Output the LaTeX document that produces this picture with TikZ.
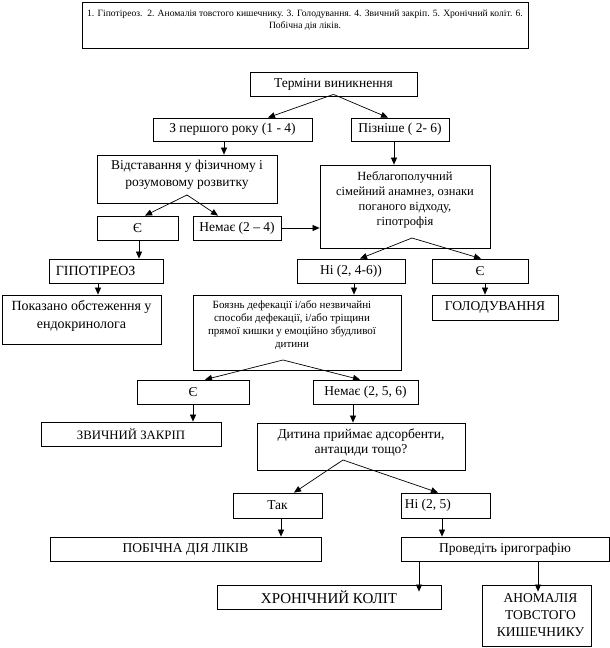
\documentclass[tikz,border=0pt]{standalone}
\usepackage{fontspec}
\setmainfont{Liberation Serif}
\usetikzlibrary{arrows.meta}
\begin{document}
\begin{tikzpicture}[x=1pt,y=-1pt,
  box/.style={draw, line width=0.8pt, inner sep=0pt, anchor=center, font=\fontsize{13.5}{16}\selectfont},
  txt/.style={inner sep=0pt, align=center, font=\fontsize{13.5}{17}\selectfont},
  small/.style={font=\fontsize{11}{13}\selectfont},
  arr/.style={line width=0.7pt, -{Triangle[length=7pt,width=6pt]}}]
\useasboundingbox (0,0) rectangle (610,648);
\newcommand\mybx[6]{\node[box, minimum width={(#4-#2)*1pt}, minimum height={(#5-#3)*1pt}] (#1) at ({(#2+#4)/2},{(#3+#5)/2}) {#6};}

\mybx{top}{82}{2}{528}{48}{}
\node[txt, anchor=north, font=\fontsize{9.6}{12}\selectfont] (topt) at ([yshift=-8pt]top.north) {1. Гіпотіреоз.~~2. Аномалія товстого кишечнику. 3. Голодування. 4. Звичний закріп. 5. Хронічний коліт. 6.\\Побічна дія ліків.};

\mybx{term}{250}{72}{417}{96}{Терміни виникнення}
\mybx{zper}{153}{118}{312}{141}{З першого року (1 - 4)}
\mybx{piz}{351}{118}{449}{141}{Пізніше ( 2- 6)}
\mybx{vid}{97}{155}{277}{203}{}
\node[txt, anchor=north] (vidt) at ([yshift=-5pt]vid.north) {Відставання у фізичному і\\розумовому розвитку};
\mybx{neb}{320}{165}{490}{248}{}
\node[txt, anchor=north, font=\fontsize{12.5}{15}\selectfont] (nebt) at ([yshift=-7pt]neb.north) {Неблагополучний\\сімейний анамнез, ознаки\\поганого відходу,\\гіпотрофія};
\mybx{ye1}{97}{216}{178}{240}{Є}
\mybx{nem1}{193}{216}{281}{240}{Немає (2 – 4)}
\mybx{hypo}{49}{259}{163}{283}{}
\node[txt, anchor=west, font=\fontsize{14}{16}\selectfont] (hypot) at ([xshift=7pt]hypo.west) {ГІПОТІРЕОЗ};
\mybx{ni1}{297}{259}{405}{283}{Ні (2, 4-6))}
\mybx{ye2}{432}{259}{528}{283}{Є}
\mybx{pok}{2}{295}{161}{344}{}
\node[txt, anchor=north, font=\fontsize{14}{18}\selectfont] (pokt) at ([yshift=-6pt]pok.north) {Показано обстеження у\\ендокринолога};
\mybx{boy}{193}{295}{401}{370}{}
\node[txt, small, anchor=north] (boyt) at ([yshift=-6pt, xshift=-5pt]boy.north) {Боязнь дефекації і/або незвичайні\\способи дефекації, і/або тріщини\\прямої кишки у емоційно збудливої\\дитини};
\mybx{hol}{432}{295}{558}{320}{ГОЛОДУВАННЯ}
\mybx{ye3}{137}{380}{249}{404}{Є}
\mybx{nem3}{313}{380}{418}{404}{Немає (2, 5, 6)}
\mybx{zvy}{41}{422}{221}{446}{\fontsize{12.8}{15}\selectfont ЗВИЧНИЙ ЗАКРІП}
\mybx{dyt}{257}{423}{465}{470}{}
\node[txt, anchor=north, font=\fontsize{13.5}{15.5}\selectfont] (dytt) at ([yshift=-6pt]dyt.north) {Дитина приймає адсорбенти,\\антациди тощо?};
\mybx{tak}{233}{493}{322}{518}{Так}
\mybx{ni2}{401}{493}{490}{518}{}
\node[txt, anchor=west] (ni2t) at ([xshift=4pt]ni2.west) {Ні (2, 5)};
\mybx{pob}{50}{537}{321}{561}{ПОБІЧНА ДІЯ ЛІКІВ}
\mybx{prov}{401}{537}{609}{561}{Проведіть іригографію}
\mybx{khr}{217}{585}{441}{609}{\fontsize{15}{17}\selectfont ХРОНІЧНИЙ КОЛІТ}
\mybx{anom}{482}{585}{591}{646}{}
\node[txt, anchor=north, font=\fontsize{13.5}{16.7}\selectfont] (anomt) at ([yshift=-9pt, xshift=4pt]anom.north) {АНОМАЛІЯ\\ТОВСТОГО\\КИШЕЧНИКУ};

% connectors
\coordinate (ap1) at ([yshift=2pt]term.south);
\draw[arr] (ap1) -- (268,0 |- zper.north);
\draw[arr] (ap1) -- (388,0 |- piz.north);
\draw[arr] (224,0 |- zper.south) -- (224,0 |- vid.north);
\draw[arr] (394,0 |- piz.south) -- (394,0 |- neb.north);
\coordinate (ap2) at (187,195);
\draw[arr] (ap2) -- (145,0 |- ye1.north);
\draw[arr] (ap2) -- (218,0 |- nem1.north);
\draw[arr] (nem1.east) -- (nem1.east -| neb.west);
\draw[arr] (139,0 |- ye1.south) -- (139,0 |- hypo.north);
\coordinate (ap3) at (412,238);
\draw[arr] (ap3) -- (360,0 |- ni1.north);
\draw[arr] (ap3) -- (481,0 |- ye2.north);
\draw[arr] (98,0 |- hypo.south) -- (98,0 |- pok.north);
\draw[arr] (354,0 |- ni1.south) -- (354,0 |- boy.north);
\draw[arr] (485,0 |- ye2.south) -- (485,0 |- hol.north);
\coordinate (ap4) at (283,360);
\draw[arr] (ap4) -- (205,0 |- ye3.north);
\draw[arr] (ap4) -- (360,0 |- nem3.north);
\draw[arr] (193,0 |- ye3.south) -- (193,0 |- zvy.north);
\draw[arr] (353,0 |- nem3.south) -- (353,0 |- dyt.north);
\coordinate (ap5) at (343,460);
\draw[arr] (ap5) -- (294,0 |- tak.north);
\draw[arr] (ap5) -- (438,0 |- ni2.north);
\draw[arr] (281,0 |- tak.south) -- (281,0 |- pob.north);
\draw[arr] (442,0 |- ni2.south) -- (442,0 |- prov.north);
\draw[arr] (419,0 |- prov.south) -- ([yshift=-7pt]419,0 |- khr.north);
\draw[arr] (538,0 |- prov.south) -- ([yshift=-7pt]538,0 |- anom.north);
\end{tikzpicture}
\end{document}
